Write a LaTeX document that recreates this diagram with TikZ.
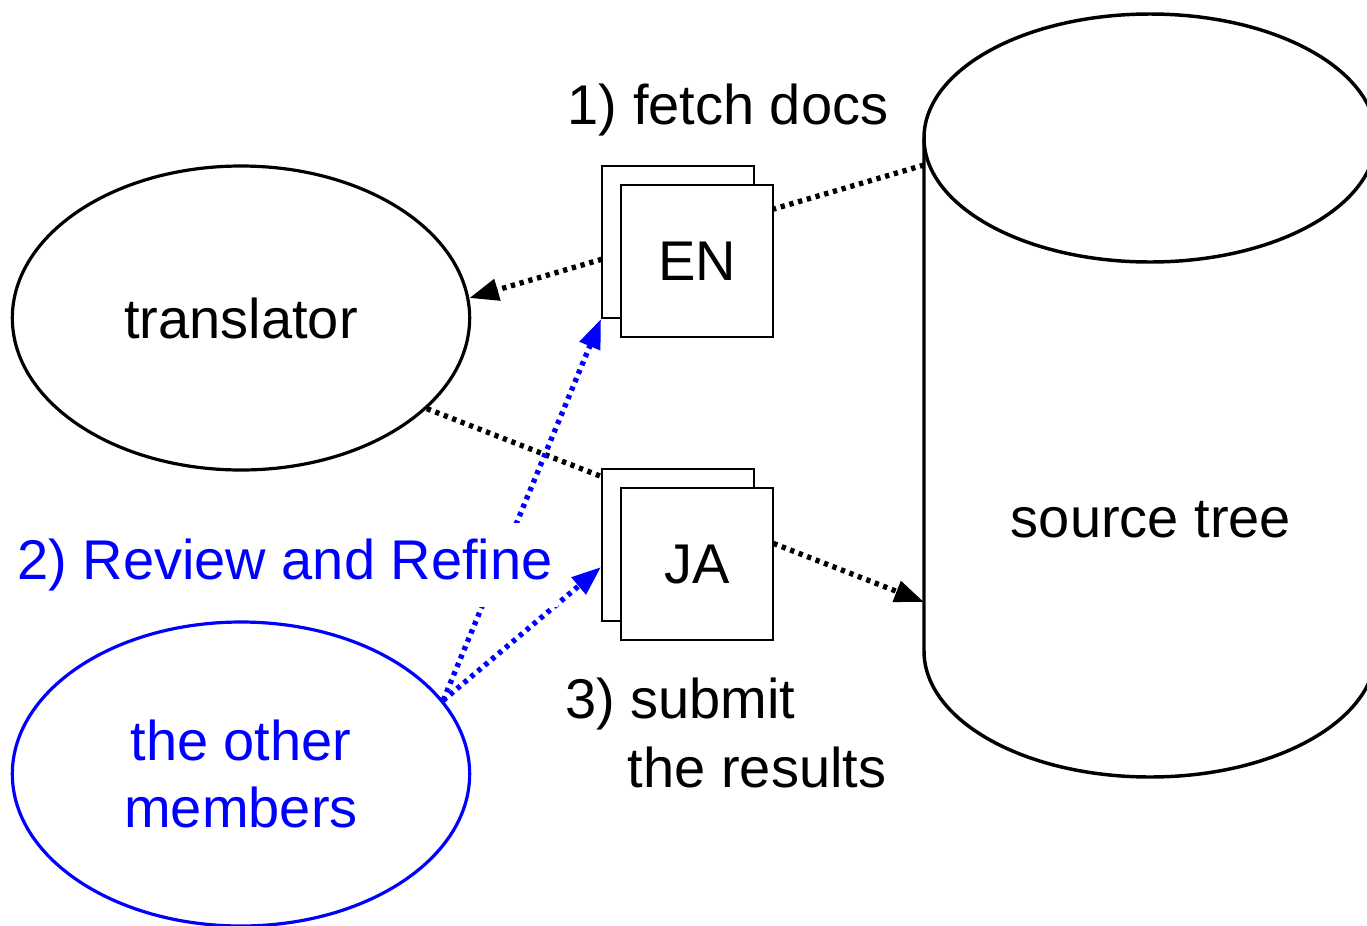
\documentclass[tikz,border=0pt]{standalone}
\usepackage{fontspec}
\setmainfont{Liberation Sans}
\usetikzlibrary{shapes.geometric,arrows.meta,backgrounds}

\tikzset{
  big/.style={font=\fontsize{42}{50}\selectfont},
  actor/.style={draw, ellipse, line width=2.4pt, minimum width=343pt, minimum height=228pt, align=center, inner sep=0pt},
  doc/.style={draw, fill=white, line width=1.5pt, minimum width=114pt, minimum height=114pt, inner sep=0pt},
  dotline/.style={line width=4pt, dash pattern=on 3.2pt off 3.6pt, -{Triangle[length=22pt,width=16pt]}},
}

\begin{document}
\begin{tikzpicture}[x=0.75pt,y=-0.75pt]
	\useasboundingbox (0,0) rectangle (1367,925);
	\clip (0,0) rectangle (1367,925);

	% source tree (cylinder)
	\draw [line width=2.6pt] (924,138) -- (924,651) arc (180:0:226 and 126) -- (1376,138);
	\draw [line width=2.6pt] (1150,138) ellipse [x radius=226, y radius=124];
	\node [big] (src) at (1151,520) {source tree};
	\coordinate (src-out) at (924,165);
	\coordinate (src-in) at (924,602);

	% Actors
	\node [actor, big] (tr) at (241,318) {translator};
	\node [actor, big, blue] (om) at (241,774) {the other\\members};

	% Documents
	\node [doc] (enb) at (678,242) {};
	\node [doc, big] (en) at (697,261) {EN};
	\node [doc] (jab) at (678,545) {};
	\node [doc, big] (ja) at (697,564) {JA};

	% Text Node
	\node [big] (fetch) at (728,110) {1) fetch docs};
	% Text Node
	\node [big, blue, fill=white, inner xsep=4pt, inner ysep=12pt] (review) at (285,565) {2) Review and Refine};
	% Text Node
	\node [big, align=left, anchor=west, inner sep=0pt] (submit) at (565,733) {3) submit\\[2pt]\hspace*{47pt}the results};

	% Connectors
	\begin{pgfonlayer}{background}
		\draw [dotline] (src-out) -- (tr.5);
		\draw [dotline] (tr.-26) -- (src-in);
		\draw [dotline, blue] (om.20) -- (enb.south west);
		\draw [dotline, blue] (om.20) -- (jab.196);
	\end{pgfonlayer}

\end{tikzpicture}
\end{document}
